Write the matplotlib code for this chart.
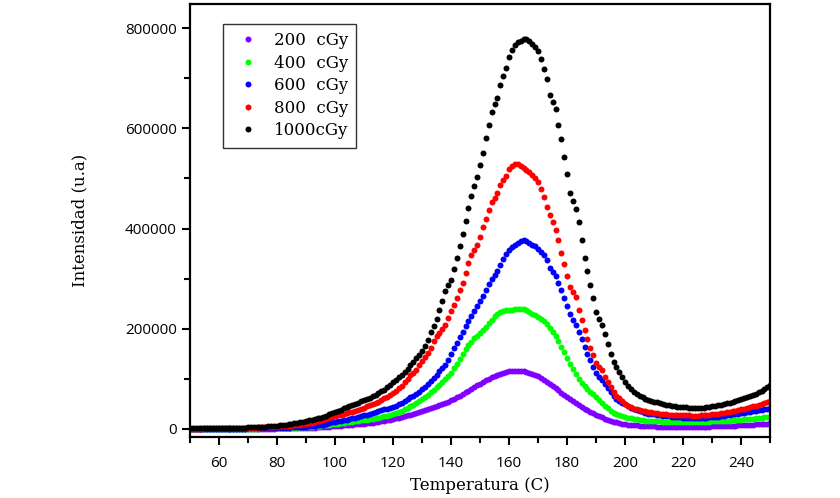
import matplotlib
matplotlib.use("Agg")
import matplotlib.pyplot as plt
from matplotlib.ticker import MultipleLocator
import numpy as np

# ---------------- Data (intensity in thousands, T = 50..250 step 1) ---------------- #
temperatura = list(range(50, 251))

i_200 = [
    0.3, 0.3, 0.3, 0.3, 0.3, 0.3, 0.3, 0.3, 0.3, 0.3,
    0.4, 0.4, 0.4, 0.4, 0.4, 0.5, 0.5, 0.5, 0.5, 0.5,
    0.6, 0.6, 0.6, 0.7, 0.7, 0.7, 0.8, 0.8, 0.9, 0.9,
    1.0, 1.0, 1.1, 1.2, 1.3, 1.4, 1.5, 1.6, 1.7, 1.8,
    2.0, 2.2, 2.5, 2.8, 3.1, 3.5, 3.9, 4.3, 4.7, 5.1,
    5.5, 6.0, 6.5, 7.0, 7.5, 8.0, 8.5, 9.0, 9.5, 10.0,
    10.5, 11.2, 12.0, 12.7, 13.3, 14.0, 15.0, 16.2, 17.5, 18.7,
    20.0, 21.4, 22.8, 24.2, 25.6, 27.0, 28.8, 30.6, 32.4, 34.2,
    36.0, 38.0, 40.0, 42.0, 44.0, 46.0, 48.2, 50.4, 52.6, 54.8,
    57.0, 60.0, 63.0, 66.5, 69.5, 73.0, 76.5, 80.0, 83.5, 87.0,
    90.0, 93.5, 97.0, 100.0, 103.0, 106.0, 108.5, 110.5, 112.5, 114.0,
    115.0, 116.0, 116.5, 116.5, 116.5, 116.0, 114.5, 112.5, 110.0, 107.5,
    105.0, 101.5, 97.5, 94.0, 90.0, 86.0, 81.5, 77.0, 72.5, 67.5,
    63.0, 59.0, 55.0, 51.0, 47.5, 44.0, 40.5, 37.0, 34.0, 31.0,
    28.0, 25.5, 23.0, 20.5, 18.5, 16.5, 14.5, 13.0, 11.5, 10.5,
    9.5, 8.8, 8.1, 7.5, 7.0, 6.5, 6.2, 5.8, 5.5, 5.2,
    5.0, 4.9, 4.8, 4.7, 4.6, 4.5, 4.5, 4.5, 4.5, 4.5,
    4.5, 4.5, 4.5, 4.5, 4.5, 4.5, 4.6, 4.7, 4.8, 4.9,
    5.0, 5.2, 5.4, 5.6, 5.8, 6.0, 6.3, 6.6, 6.9, 7.2,
    7.5, 7.8, 8.1, 8.4, 8.7, 9.0, 9.4, 9.8, 10.2, 10.6,
    11.0,
]

i_400 = [
    0.3, 0.3, 0.3, 0.3, 0.3, 0.3, 0.3, 0.3, 0.3, 0.3,
    0.5, 0.5, 0.5, 0.5, 0.6, 0.6, 0.6, 0.7, 0.7, 0.7,
    0.8, 0.8, 0.9, 0.9, 1.0, 1.0, 1.1, 1.2, 1.3, 1.4,
    1.5, 1.6, 1.7, 1.9, 2.1, 2.3, 2.5, 2.7, 3.0, 3.3,
    3.6, 4.0, 4.5, 5.0, 5.5, 6.2, 7.0, 7.8, 8.6, 9.3,
    10.0, 10.8, 11.6, 12.4, 13.2, 14.0, 14.8, 15.6, 16.4, 17.2,
    18.0, 18.8, 19.6, 20.4, 21.2, 22.0, 23.5, 25.0, 26.5, 28.0,
    30.0, 32.0, 34.0, 36.5, 39.0, 42.0, 45.0, 48.0, 51.5, 55.0,
    59.0, 63.5, 68.0, 73.0, 78.0, 83.0, 88.5, 94.0, 100.0, 106.0,
    112.0, 121.0, 130.0, 140.0, 150.0, 160.0, 167.0, 174.0, 181.0, 186.0,
    191.0, 197.0, 204.0, 211.0, 218.0, 225.0, 229.0, 233.0, 235.0, 237.0,
    237.0, 238.0, 238.5, 239.5, 240.0, 240.0, 238.0, 234.0, 230.0, 227.0,
    223.0, 219.0, 215.0, 209.0, 201.0, 193.0, 185.0, 175.0, 163.0, 153.0,
    142.0, 130.0, 120.0, 110.0, 100.0, 92.0, 86.0, 80.0, 74.0, 69.0,
    63.0, 57.0, 51.0, 46.0, 41.0, 36.0, 32.5, 29.0, 27.0, 25.5,
    24.0, 22.5, 21.0, 20.0, 19.0, 18.0, 17.3, 16.7, 16.2, 15.8,
    15.5, 15.2, 15.0, 14.8, 14.6, 14.5, 14.4, 14.3, 14.2, 14.1,
    14.0, 14.0, 14.0, 14.0, 14.0, 14.0, 14.1, 14.3, 14.5, 14.7,
    15.0, 15.3, 15.6, 15.9, 16.2, 16.5, 16.9, 17.3, 17.7, 18.1,
    18.5, 19.1, 19.7, 20.3, 20.9, 21.5, 22.1, 22.7, 23.3, 23.9,
    24.5,
]

i_600 = [
    0.4, 0.4, 0.4, 0.4, 0.4, 0.4, 0.4, 0.4, 0.4, 0.4,
    0.6, 0.6, 0.6, 0.7, 0.7, 0.7, 0.8, 0.8, 0.9, 0.9,
    1.0, 1.1, 1.1, 1.2, 1.3, 1.4, 1.5, 1.6, 1.7, 1.8,
    2.0, 2.1, 2.3, 2.5, 2.7, 3.0, 3.2, 3.5, 3.8, 4.1,
    4.5, 5.0, 5.6, 6.3, 7.0, 7.8, 8.8, 10.0, 11.5, 13.0,
    14.5, 15.5, 16.5, 17.5, 18.5, 19.5, 21.0, 22.5, 24.0, 25.5,
    27.0, 28.8, 30.6, 32.4, 34.2, 36.0, 37.5, 39.0, 40.5, 42.0,
    44.0, 46.5, 49.0, 52.5, 56.0, 60.0, 63.0, 66.0, 70.0, 74.0,
    79.0, 84.0, 89.0, 95.0, 101.0, 108.0, 115.0, 121.0, 128.0, 138.0,
    150.0, 161.0, 172.0, 183.0, 194.0, 205.0, 215.0, 225.0, 235.0, 245.0,
    255.0, 266.0, 278.0, 290.0, 300.0, 308.0, 316.0, 328.0, 340.0, 350.0,
    357.0, 363.0, 368.0, 372.0, 376.0, 377.0, 375.0, 372.0, 368.0, 365.0,
    360.0, 354.0, 347.0, 338.0, 322.0, 314.0, 306.0, 292.0, 278.0, 262.0,
    245.0, 230.0, 218.0, 207.0, 193.0, 180.0, 164.0, 149.0, 138.0, 124.0,
    112.0, 104.0, 98.0, 90.0, 82.0, 74.0, 66.0, 60.0, 56.0, 52.0,
    49.0, 45.5, 42.0, 39.5, 37.0, 35.0, 33.0, 31.8, 30.7, 29.8,
    29.0, 28.2, 27.5, 26.8, 26.0, 25.3, 24.7, 24.1, 23.6, 23.1,
    22.7, 22.3, 22.0, 21.7, 21.5, 21.5, 21.7, 22.0, 22.4, 22.9,
    23.5, 24.1, 24.8, 25.5, 26.3, 27.1, 28.0, 28.9, 29.8, 30.8,
    31.5, 32.4, 33.3, 34.3, 35.3, 36.3, 37.3, 38.4, 39.5, 40.5,
    41.5,
]

i_800 = [
    0.5, 0.5, 0.5, 0.5, 0.5, 1, 1, 1, 1, 1,
    1, 1, 1, 1.5, 1.5, 1.5, 1.5, 2, 2, 2,
    2, 2.5, 2.5, 2.5, 3, 3, 3.5, 3.5, 4, 4.5,
    4.5, 5, 5, 5.5, 6, 6.5, 7, 7.5, 8, 9,
    10, 11, 12, 13.5, 15, 16.5, 18, 19.5, 21, 23.5,
    25.5, 27, 28.5, 30, 31.5, 33, 34.5, 36, 38, 40,
    42.5, 45, 47, 49.5, 51.5, 54, 57.5, 61, 64.5, 68,
    72, 76.5, 81, 86, 93, 100, 107, 112, 118, 127,
    136, 144, 151, 161, 176, 186, 191, 199, 208, 222,
    236, 248, 261, 277, 292, 312, 331, 347, 358, 368,
    384, 404, 418, 437, 452, 461, 470, 486, 496, 504,
    518, 525, 528, 528, 524, 521, 517, 513, 507, 500,
    493, 478, 462, 442, 427, 412, 397, 378, 351, 330,
    305, 284, 274, 264, 237, 217, 198, 179, 162, 148,
    131, 124, 118, 104, 93, 84, 74, 66, 61, 56,
    50, 46, 43, 40, 39, 37, 36, 35, 34, 33,
    32, 31, 30.5, 30, 29, 28.5, 28, 28, 28, 27.5,
    27, 27, 27, 26.5, 26.5, 26.5, 27, 27.5, 28, 28.5,
    29, 30, 30.5, 31, 32, 33, 34, 35, 36, 37.5,
    39, 40.5, 42, 43.5, 45, 46, 48, 50, 52, 54,
    56,
]

i_1000 = [
    1, 1, 1, 1, 1, 1, 1, 1, 1, 1.5,
    1.5, 1.5, 1.5, 1.5, 2, 2, 2, 2, 2.5, 2.5,
    3, 3, 3.5, 3.5, 4, 4, 4.5, 5, 5.5, 6,
    6.5, 7, 7.5, 8, 9, 10, 11, 12, 13, 14.5,
    16, 17, 18, 19.5, 21, 22.5, 24.5, 26.5, 29, 31.5,
    34, 36, 38.5, 41, 43.5, 46, 48.5, 50.5, 52.5, 55,
    57, 59.5, 62, 65, 68, 71.5, 75, 78, 83, 88,
    93, 98, 103, 108, 114, 120, 127, 134, 141, 148,
    156, 165, 178, 193, 205, 220, 237, 255, 275, 288,
    297, 319, 342, 365, 390, 415, 440, 464, 484, 502,
    526, 551, 580, 607, 632, 648, 660, 686, 704, 721,
    742, 757, 766, 772, 775, 778, 778, 775, 768, 762,
    755, 738, 718, 698, 667, 652, 638, 607, 578, 543,
    509, 471, 455, 439, 412, 378, 342, 316, 287, 261,
    234, 220, 208, 189, 170, 149, 133, 124, 114, 104,
    93, 86, 80, 74, 69, 66, 63, 60, 58, 56,
    54, 53, 51, 50, 48, 47, 46, 45, 44, 44,
    43, 43, 42, 42, 41, 41, 42, 42, 43, 44,
    45, 46, 47, 48, 50, 51, 52, 54, 55, 57,
    59, 61, 63, 65, 68, 70, 73, 76, 79, 84,
    88,
]

labels = ["200  cGy", "400  cGy", "600  cGy", "800  cGy", "1000cGy"]
colors = ["#8000ff", "#00ff00", "#0000ff", "#ff0000", "#000000"]
series = [i_200, i_400, i_600, i_800, i_1000]

# ---------------- Plot ---------------- #
fig = plt.figure(figsize=(8.4, 4.98), dpi=100)
ax = fig.add_axes([0.226, 0.1225, 0.691, 0.8695])

for vals, col, lab in zip(series, colors, labels):
    ax.plot(temperatura, np.array(vals) * 1000, "o", color=col, ms=4.3,
            mec="none", label=lab)

ax.set_xlim(50, 250)
ax.set_ylim(-16000, 848000)
ax.xaxis.set_minor_locator(MultipleLocator(10))
ax.yaxis.set_major_locator(MultipleLocator(200000))
ax.yaxis.set_minor_locator(MultipleLocator(100000))
ax.set_xticks([60, 80, 100, 120, 140, 160, 180, 200, 220, 240])
ax.tick_params(which="major", direction="out", length=6, width=1.5,
               top=False, right=False)
ax.tick_params(which="minor", direction="out", length=4, width=1.5,
               top=False, right=False)
ax.tick_params(axis="x", which="major", pad=8)
for lbl in ax.get_xticklabels() + ax.get_yticklabels():
    lbl.set_fontfamily("Open Sans")
    lbl.set_fontsize(11)
for sp in ax.spines.values():
    sp.set_linewidth(1.6)

ax.set_xlabel("Temperatura (C)", family="DejaVu Serif", fontsize=12, labelpad=4)
ax.set_ylabel("Intensidad (u.a)", family="DejaVu Serif", fontsize=12, labelpad=26)

leg = ax.legend(loc="upper left", bbox_to_anchor=(0.057, 0.954), borderaxespad=0,
                prop={"family": "DejaVu Serif", "size": 12}, frameon=True,
                fancybox=False, edgecolor="black", handletextpad=0.55,
                labelspacing=0.33, markerscale=1.0, borderpad=0.5)
leg.get_frame().set_linewidth(1.0)

fig.savefig("out.png", dpi=100, facecolor="white")
